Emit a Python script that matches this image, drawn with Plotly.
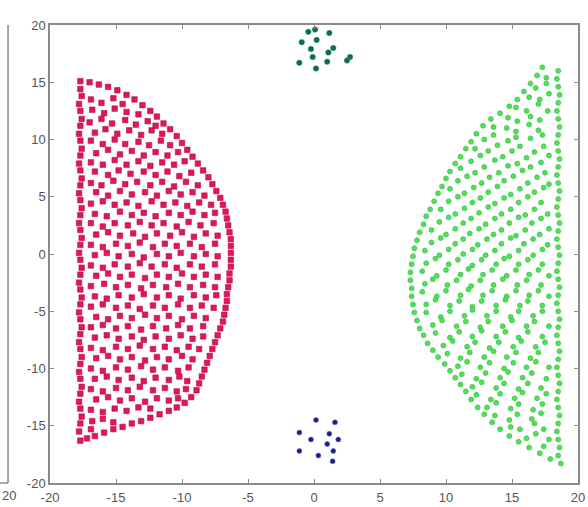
import plotly.graph_objects as go

# ---------------- data ----------------
red_pts = [
    # outer arc
    (-17.7,15.1),(-17.0,15.0),(-16.3,14.8),(-15.6,14.6),(-14.9,14.3),(-14.2,13.9),(-13.6,13.5),(-13.0,13.0),
    (-12.4,12.5),(-11.9,12.0),(-11.4,11.4),(-10.9,10.9),(-10.4,10.3),(-10.0,9.7),(-9.6,9.1),(-9.2,8.5),
    (-8.8,7.9),(-8.4,7.3),(-8.0,6.7),(-7.7,6.1),(-7.4,5.5),(-7.1,4.9),(-6.9,4.3),(-6.7,3.7),(-6.6,3.1),
    (-6.5,2.5),(-6.4,1.9),(-6.3,1.3),(-6.3,0.7),(-6.3,0.1),(-6.3,-0.5),(-6.3,-1.1),(-6.4,-1.7),(-6.4,-2.3),
    (-6.5,-2.9),(-6.6,-3.5),(-6.6,-4.1),(-6.7,-4.7),(-6.8,-5.3),(-6.9,-5.9),(-7.1,-6.5),(-7.3,-7.1),
    (-7.5,-7.7),(-7.7,-8.3),(-7.9,-8.9),(-8.1,-9.5),(-8.3,-10.1),(-8.5,-10.7),(-8.7,-11.3),(-8.9,-11.9),
    (-9.3,-12.5),(-9.8,-13.0),(-10.4,-13.4),(-11.0,-13.7),(-11.7,-14.0),(-12.4,-14.3),(-13.1,-14.6),
    (-13.8,-14.8),(-14.5,-15.1),(-15.2,-15.3),(-15.9,-15.6),(-16.6,-15.9),(-17.2,-16.1),(-17.7,-16.3),
    # left column
    (-17.7,14.4),(-17.6,13.8),(-17.8,13.1),(-17.7,12.5),(-17.6,11.8),(-17.7,11.2),(-17.8,10.5),(-17.7,9.9),
    (-17.6,9.2),(-17.7,8.6),(-17.8,7.9),(-17.7,7.3),(-17.6,6.6),(-17.7,6.0),(-17.8,5.3),(-17.7,4.7),
    (-17.6,4.0),(-17.7,3.4),(-17.8,2.7),(-17.7,2.1),(-17.6,1.4),(-17.7,0.8),(-17.8,0.1),(-17.7,-0.5),
    (-17.6,-1.2),(-17.7,-1.8),(-17.8,-2.5),(-17.7,-3.1),(-17.6,-3.8),(-17.7,-4.4),(-17.8,-5.1),(-17.7,-5.7),
    (-17.6,-6.4),(-17.7,-7.0),(-17.8,-7.7),(-17.7,-8.3),(-17.6,-9.0),(-17.7,-9.6),(-17.8,-10.3),(-17.7,-10.9),
    (-17.6,-11.6),(-17.7,-12.2),(-17.8,-12.9),(-17.7,-13.5),(-17.6,-14.2),(-17.7,-14.8),(-17.8,-15.5),
    # interior
    (-16.9,13.5),(-16.1,13.2),(-15.2,13.6),(-14.5,13.1),
    (-16.8,12.6),(-15.9,12.3),(-15.1,12.7),(-14.2,12.4),(-13.3,12.2),
    (-17.0,11.5),(-16.1,11.8),(-15.3,11.4),(-14.3,11.7),(-13.5,11.3),(-12.6,11.6),(-12.0,11.2),
    (-16.6,10.6),(-15.8,10.9),(-14.9,10.5),(-14.0,10.8),(-13.1,10.4),(-12.3,10.8),(-11.5,10.5),
    (-16.9,9.9),(-16.0,9.6),(-15.1,10.0),(-14.3,9.6),(-13.3,9.8),(-12.5,9.5),(-11.6,9.9),(-10.9,9.5),
    (-16.5,8.8),(-15.6,9.1),(-14.7,8.7),(-13.8,9.0),(-12.9,8.6),(-12.0,8.9),(-11.1,8.6),(-10.3,8.9),
    (-16.9,8.0),(-16.0,7.8),(-15.1,8.2),(-14.2,7.8),(-13.3,8.1),(-12.4,7.7),(-11.5,8.0),(-10.6,7.8),(-9.8,8.1),
    (-16.6,7.2),(-15.6,6.9),(-14.8,7.3),(-13.9,7.0),(-12.9,7.2),(-12.0,6.9),(-11.1,7.2),(-10.2,6.8),(-9.3,7.1),
    (-16.9,6.2),(-16.1,6.0),(-15.2,6.4),(-14.3,6.1),(-13.4,6.3),(-12.4,6.0),(-11.5,6.3),(-10.6,5.9),(-9.7,6.3),(-8.8,6.0),
    (-16.5,5.4),(-15.6,5.1),(-14.7,5.5),(-13.8,5.2),(-12.8,5.4),(-11.9,5.1),(-11.0,5.5),(-10.1,5.2),(-9.2,5.4),(-8.3,5.1),
    (-16.9,4.4),(-16.0,4.6),(-15.1,4.3),(-14.2,4.5),(-13.3,4.2),(-12.3,4.6),(-11.4,4.3),(-10.5,4.5),(-9.6,4.2),(-8.7,4.5),(-7.8,4.3),
    (-16.6,3.5),(-15.7,3.3),(-14.7,3.7),(-13.8,3.4),(-12.9,3.6),(-12.0,3.3),(-11.0,3.6),(-10.1,3.4),(-9.2,3.7),(-8.3,3.4),(-7.5,3.6),
    (-16.9,2.7),(-16.0,2.4),(-15.1,2.7),(-14.1,2.5),(-13.2,2.8),(-12.3,2.5),(-11.4,2.7),(-10.4,2.4),(-9.5,2.8),(-8.6,2.5),(-7.6,2.7),
    (-16.5,1.7),(-15.6,1.9),(-14.7,1.6),(-13.7,1.8),(-12.8,1.5),(-11.9,1.8),(-10.9,1.6),(-10.0,1.9),(-9.1,1.5),(-8.2,1.8),(-7.3,1.6),
    (-16.9,0.8),(-16.0,0.6),(-15.0,0.9),(-14.1,0.7),(-13.2,1.0),(-12.2,0.6),(-11.3,0.9),(-10.4,0.7),(-9.4,0.9),(-8.5,0.6),(-7.5,0.9),
    (-16.6,-0.1),(-15.7,0.1),(-14.8,-0.2),(-13.8,0.0),(-12.9,-0.3),(-11.9,0.0),(-11.0,-0.2),(-10.1,0.1),(-9.1,-0.2),(-8.2,0.0),(-7.3,-0.2),
    (-16.9,-1.0),(-16.0,-1.2),(-15.1,-0.9),(-14.1,-1.1),(-13.2,-0.8),(-12.3,-1.1),(-11.3,-0.9),(-10.4,-1.2),(-9.4,-0.9),(-8.5,-1.1),(-7.5,-0.9),
    (-16.5,-1.9),(-15.6,-1.7),(-14.7,-2.0),(-13.8,-1.8),(-12.8,-2.1),(-11.9,-1.8),(-11.0,-2.0),(-10.0,-1.7),(-9.1,-2.0),(-8.2,-1.8),(-7.3,-2.0),
    (-16.9,-2.8),(-15.9,-2.6),(-15.0,-2.9),(-14.1,-2.7),(-13.1,-3.0),(-12.2,-2.7),(-11.2,-2.9),(-10.3,-2.6),(-9.4,-2.9),(-8.4,-2.7),(-7.5,-2.9),
    (-16.6,-3.7),(-15.7,-3.9),(-14.8,-3.6),(-13.8,-3.8),(-12.9,-3.5),(-11.9,-3.8),(-11.0,-3.6),(-10.1,-3.9),(-9.1,-3.6),(-8.2,-3.8),(-7.4,-3.6),
    (-16.9,-4.6),(-16.0,-4.4),(-15.0,-4.7),(-14.1,-4.5),(-13.2,-4.8),(-12.2,-4.5),(-11.3,-4.7),(-10.3,-4.4),(-9.4,-4.7),(-8.5,-4.5),(-7.6,-4.7),
    (-16.5,-5.5),(-15.6,-5.7),(-14.7,-5.4),(-13.8,-5.6),(-12.8,-5.3),(-11.9,-5.6),(-11.0,-5.4),(-10.0,-5.7),(-9.1,-5.4),(-8.2,-5.6),
    (-16.9,-6.4),(-16.0,-6.2),(-15.0,-6.5),(-14.1,-6.3),(-13.1,-6.6),(-12.2,-6.3),(-11.2,-6.5),(-10.3,-6.2),(-9.4,-6.5),(-8.4,-6.3),
    (-16.6,-7.3),(-15.7,-7.1),(-14.8,-7.4),(-13.8,-7.2),(-12.9,-7.5),(-12.0,-7.2),(-11.0,-7.4),(-10.1,-7.1),(-9.2,-7.4),(-8.4,-7.2),
    (-16.9,-8.2),(-16.0,-8.4),(-15.0,-8.1),(-14.1,-8.3),(-13.2,-8.0),(-12.2,-8.3),(-11.3,-8.1),(-10.4,-8.4),(-9.5,-8.1),(-8.7,-8.3),
    (-16.5,-9.1),(-15.6,-8.9),(-14.7,-9.2),(-13.8,-9.0),(-12.8,-9.3),(-11.9,-9.0),(-11.0,-9.2),(-10.0,-8.9),(-9.2,-9.2),
    (-16.9,-10.0),(-16.0,-10.2),(-15.0,-9.9),(-14.1,-10.1),(-13.1,-9.8),(-12.2,-10.1),(-11.3,-9.9),(-10.3,-10.2),(-9.5,-9.9),
    (-16.6,-10.9),(-15.7,-10.7),(-14.8,-11.0),(-13.8,-10.8),(-12.9,-11.1),(-12.0,-10.8),(-11.0,-11.0),(-10.2,-10.7),(-9.6,-11.1),
    (-16.9,-11.8),(-16.0,-12.0),(-15.0,-11.7),(-14.1,-11.9),(-13.2,-11.6),(-12.2,-11.9),(-11.3,-11.7),(-10.4,-12.0),(-9.7,-11.8),
    (-16.5,-12.7),(-15.6,-12.5),(-14.7,-12.8),(-13.8,-12.6),(-12.8,-12.9),(-11.9,-12.6),(-11.0,-12.8),(-10.3,-12.6),
    (-16.9,-13.6),(-16.0,-13.8),(-15.1,-13.5),(-14.2,-13.7),(-13.3,-13.4),(-12.4,-13.5),
    (-16.8,-14.6),(-16.0,-14.4),(-15.2,-14.7),
    (-16.9,-15.3),
]

green_pts = [
    # outer arc
    (17.3,16.3),(16.9,15.6),(16.4,14.9),(15.9,14.2),(15.4,13.5),(14.8,12.9),(14.1,12.3),(13.4,11.8),
    (12.8,11.2),(12.3,10.5),(11.9,9.8),(11.5,9.2),(11.1,8.5),(10.7,7.9),(10.3,7.2),(10.0,6.6),(9.7,5.9),
    (9.4,5.3),(9.1,4.6),(8.8,3.9),(8.5,3.3),(8.3,2.6),(8.0,1.9),(7.8,1.2),(7.6,0.5),(7.5,-0.2),(7.4,-0.9),
    (7.3,-1.6),(7.3,-2.3),(7.4,-3.0),(7.4,-3.7),(7.5,-4.4),(7.6,-5.1),(7.8,-5.8),(8.0,-6.5),(8.3,-7.1),
    (8.6,-7.8),(9.0,-8.4),(9.4,-9.0),(9.9,-9.6),(10.3,-10.2),(10.7,-10.8),(11.1,-11.4),(11.5,-12.0),
    (11.9,-12.7),(12.4,-13.4),(12.9,-14.0),(13.5,-14.7),(14.1,-15.3),(14.8,-15.9),(15.5,-16.4),
    (16.3,-16.9),(17.1,-17.4),(17.9,-17.9),(18.7,-18.3),
    # right column
    (18.5,16.0),(18.4,15.3),(18.5,14.6),(18.6,13.9),(18.5,13.2),(18.4,12.5),(18.5,11.8),(18.6,11.1),
    (18.5,10.4),(18.4,9.7),(18.5,9.0),(18.6,8.3),(18.5,7.6),(18.4,6.9),(18.5,6.2),(18.6,5.5),(18.5,4.8),
    (18.4,4.1),(18.5,3.4),(18.6,2.7),(18.5,2.0),(18.4,1.3),(18.5,0.6),(18.6,-0.1),(18.5,-0.8),(18.4,-1.5),
    (18.5,-2.2),(18.6,-2.9),(18.5,-3.6),(18.4,-4.3),(18.5,-5.0),(18.6,-5.7),(18.5,-6.4),(18.4,-7.1),
    (18.5,-7.8),(18.6,-8.5),(18.5,-9.2),(18.4,-9.9),(18.5,-10.6),(18.6,-11.3),(18.5,-12.0),(18.4,-12.7),
    (18.5,-13.4),(18.6,-14.1),(18.5,-14.8),(18.4,-15.5),(18.5,-16.2),(18.6,-16.9),(18.5,-17.6),
    # interior
    (17.6,15.4),
    (16.8,14.5),(17.6,14.9),
    (16.3,13.7),(17.1,13.5),(17.8,14.0),
    (15.3,12.8),(16.1,12.5),(17.0,13.1),(17.7,12.5),
    (14.7,11.9),(15.4,11.6),(16.4,12.0),(17.1,11.7),
    (13.6,11.1),(14.6,11.0),(15.3,10.7),(16.3,11.3),(17.0,10.8),
    (12.9,10.0),(13.6,10.4),(14.7,9.9),(15.3,10.2),(16.4,10.1),(17.3,10.4),
    (12.2,9.2),(13.2,9.0),(13.9,9.5),(15.0,9.0),(15.6,9.4),(16.7,8.9),(17.4,9.4),
    (11.9,8.1),(12.6,8.6),(13.7,8.2),(14.3,8.5),(15.4,7.9),(16.1,8.4),(17.2,8.0),(17.8,8.6),
    (11.1,7.5),(12.2,7.1),(12.9,7.6),(14.0,7.1),(14.7,7.7),(15.8,7.3),(16.4,7.6),(17.5,7.1),
    (10.9,6.4),(11.6,6.8),(12.7,6.2),(13.3,6.7),(14.4,6.4),(15.1,6.8),(16.2,6.2),(16.9,6.7),(17.8,6.1),
    (10.3,5.7),(11.4,5.3),(12.1,5.8),(13.2,5.4),(13.9,5.9),(14.9,5.2),(15.6,5.7),(16.7,5.4),(17.4,5.8),
    (10.2,4.6),(10.9,5.0),(12.0,4.5),(12.6,4.9),(13.7,4.4),(14.4,4.9),(15.5,4.5),(16.2,5.0),(17.2,4.5),
    (9.6,3.9),(10.7,3.5),(11.4,4.0),(12.5,3.6),(13.2,4.1),(14.2,3.5),(14.9,3.9),(16.0,3.4),(16.7,3.9),(17.7,3.5),
    (9.5,2.8),(10.2,3.2),(11.3,2.7),(11.9,3.1),(13.0,2.6),(13.7,3.1),(14.8,2.7),(15.5,3.2),(16.5,2.7),(17.2,3.1),
    (8.9,2.1),(10.0,1.7),(10.7,2.2),(11.8,1.8),(12.5,2.2),(13.6,1.7),(14.2,2.1),(15.3,1.6),(16.0,2.1),(17.1,1.7),(17.8,2.2),
    (8.9,1.0),(9.6,1.4),(10.7,0.9),(11.3,1.3),(12.4,0.8),(13.1,1.3),(14.2,0.9),(14.9,1.4),(15.9,0.9),(16.6,1.3),(17.7,0.8),
    (8.4,0.3),(9.5,-0.1),(10.2,0.4),(11.3,0.0),(12.0,0.4),(13.0,-0.1),(13.7,0.3),(14.8,-0.2),(15.5,0.3),(16.6,-0.1),(17.3,0.4),
    (8.5,-0.8),(9.2,-0.4),(10.2,-0.9),(10.9,-0.5),(12.0,-1.0),(12.7,-0.5),(13.8,-0.9),(14.4,-0.4),(15.5,-0.9),(16.2,-0.5),(17.3,-0.9),
    (8.2,-1.5),(9.3,-1.9),(10.0,-1.4),(11.1,-1.8),(11.7,-1.3),(12.8,-1.8),(13.5,-1.4),(14.6,-1.9),(15.3,-1.4),(16.3,-1.8),(17.0,-1.4),(17.8,-1.9),
    (8.4,-2.6),(9.0,-2.2),(10.1,-2.7),(10.8,-2.3),(11.9,-2.8),(12.6,-2.3),(13.6,-2.7),(14.3,-2.2),(15.4,-2.7),(16.1,-2.3),(17.2,-2.7),
    (8.2,-3.3),(9.3,-3.7),(10.0,-3.2),(11.1,-3.6),(11.7,-3.1),(12.8,-3.6),(13.5,-3.2),(14.6,-3.7),(15.3,-3.2),(16.3,-3.6),(17.0,-3.2),(17.8,-3.7),
    (8.5,-4.4),(9.2,-4.0),(10.3,-4.5),(11.0,-4.1),(12.0,-4.6),(12.7,-4.1),(13.8,-4.5),(14.5,-4.0),(15.6,-4.5),(16.2,-4.1),(17.3,-4.5),
    (8.5,-5.1),(9.6,-5.5),(10.3,-5.0),(11.4,-5.4),(12.0,-4.9),(13.1,-5.4),(13.8,-5.0),(14.9,-5.5),(15.5,-5.0),(16.6,-5.4),(17.3,-5.0),
    (9.0,-6.2),(9.7,-5.8),(10.8,-6.3),(11.5,-5.9),(12.6,-6.4),(13.2,-5.9),(14.3,-6.3),(15.0,-5.8),(16.1,-6.3),(16.7,-5.9),(17.8,-6.3),
    (9.2,-6.9),(10.3,-7.3),(11.0,-6.8),(12.0,-7.2),(12.7,-6.7),(13.8,-7.2),(14.5,-6.8),(15.5,-7.3),(16.2,-6.8),(17.3,-7.2),
    (9.8,-8.0),(10.5,-7.6),(11.6,-8.1),(12.2,-7.7),(13.3,-8.2),(14.0,-7.7),(15.1,-8.1),(15.7,-7.6),(16.8,-8.1),(17.5,-7.7),
    (10.1,-8.7),(11.1,-9.1),(11.8,-8.6),(12.9,-9.0),(13.6,-8.5),(14.6,-9.0),(15.3,-8.6),(16.4,-9.1),(17.0,-8.6),
    (10.9,-9.8),(11.6,-9.4),(12.6,-9.9),(13.3,-9.5),(14.4,-10.0),(15.1,-9.5),(16.1,-9.9),(16.8,-9.4),(17.8,-9.9),
    (11.2,-10.5),(12.3,-10.9),(13.0,-10.4),(14.1,-10.8),(14.7,-10.3),(15.8,-10.8),(16.5,-10.4),(17.6,-10.9),
    (12.0,-11.6),(12.7,-11.2),(13.8,-11.7),(14.4,-11.3),(15.5,-11.8),(16.2,-11.3),(17.2,-11.7),
    (12.3,-12.3),(13.4,-12.7),(14.1,-12.2),(15.2,-12.6),(15.8,-12.1),(16.9,-12.6),(17.6,-12.2),
    (13.1,-13.4),(13.8,-13.0),(14.9,-13.5),(15.5,-13.1),(16.6,-13.6),(17.3,-13.1),
    (13.7,-14.1),(14.8,-14.5),(15.4,-14.0),(16.5,-14.4),(17.2,-13.9),
    (14.9,-15.1),(15.6,-15.3),(16.7,-14.8),(17.4,-15.3),
    (16.1,-16.1),(16.8,-15.7),(17.8,-16.2),
    (17.4,-16.8),
]

teal_x = [-0.43, 0.08, 1.16, -0.93, 0.2, -0.23, -0.1, 1.09, 1.46, -1.11, 0.15, 1.0, 2.73, 2.5]
teal_y = [19.4, 19.6, 19.3, 18.5, 18.7, 17.9, 17.2, 17.6, 18.0, 16.7, 16.2, 16.8, 17.2, 16.9]

blue_x = [0.15, 1.59, -1.11, 1.16, -0.23, 1.84, 1.0, -1.11, 1.46, 0.33, 1.41]
blue_y = [-14.5, -14.7, -15.6, -15.7, -16.2, -16.2, -16.6, -17.2, -17.2, -17.6, -18.1]

tick_vals = [-20, -15, -10, -5, 0, 5, 10, 15, 20]
tick_text = ["-20", "-15", "-10", "-5", "0", "5", "10", "15", "20"]

# ---------------- figure ----------------
red_x = [p[0] for p in red_pts]
red_y = [p[1] for p in red_pts]
green_x = [p[0] for p in green_pts]
green_y = [p[1] for p in green_pts]

fig = go.Figure()
fig.add_trace(go.Scatter(x=red_x, y=red_y, mode="markers",
                         marker=dict(size=5.5, color="#e3145c", symbol="square",
                                     line=dict(width=0.6, color="#b00f4a"))))
fig.add_trace(go.Scatter(x=green_x, y=green_y, mode="markers",
                         marker=dict(size=5, color="#4ae64a",
                                     line=dict(width=0.6, color="#3aae5a"))))
fig.add_trace(go.Scatter(x=teal_x, y=teal_y, mode="markers",
                         marker=dict(size=5.5, color="#0e6a4c",
                                     line=dict(width=0.6, color="#2a9a70"))))
fig.add_trace(go.Scatter(x=blue_x, y=blue_y, mode="markers",
                         marker=dict(size=5, color="#1c1c8c",
                                     line=dict(width=0.6, color="#6a6ac0"))))

axis_common = dict(range=[-20, 20], tickmode="array", tickvals=tick_vals, ticktext=tick_text,
                   showgrid=False, zeroline=False, showline=True, linecolor="#8a8a8a",
                   linewidth=1.5, mirror="ticks", ticks="inside", ticklen=4,
                   tickcolor="#8a8a8a", tickwidth=1, automargin=False,
                   tickfont=dict(family="Liberation Sans, Arial", size=13, color="#555555"))

fig.update_layout(
    width=588, height=507,
    margin=dict(l=50, r=10, t=25, b=24),
    paper_bgcolor="white", plot_bgcolor="white",
    showlegend=False,
    xaxis=dict(**axis_common, ticklabelstandoff=2),
    yaxis=dict(**axis_common),
    shapes=[
        dict(type="line", xref="paper", yref="paper", x0=-0.0795, x1=-0.0795, y0=0, y1=1,
             line=dict(color="#8a8a8a", width=1.5)),
        dict(type="line", xref="paper", yref="paper", x0=-0.1, x1=-0.0795, y0=0, y1=0,
             line=dict(color="#8a8a8a", width=1.5)),
    ],
    annotations=[
        dict(text="20", xref="paper", yref="paper", x=-0.0777, y=0, xanchor="center",
             yanchor="top", yshift=-3, showarrow=False,
             font=dict(family="Liberation Sans, Arial", size=13, color="#555555")),
    ],
)

fig.write_html("out.html")
